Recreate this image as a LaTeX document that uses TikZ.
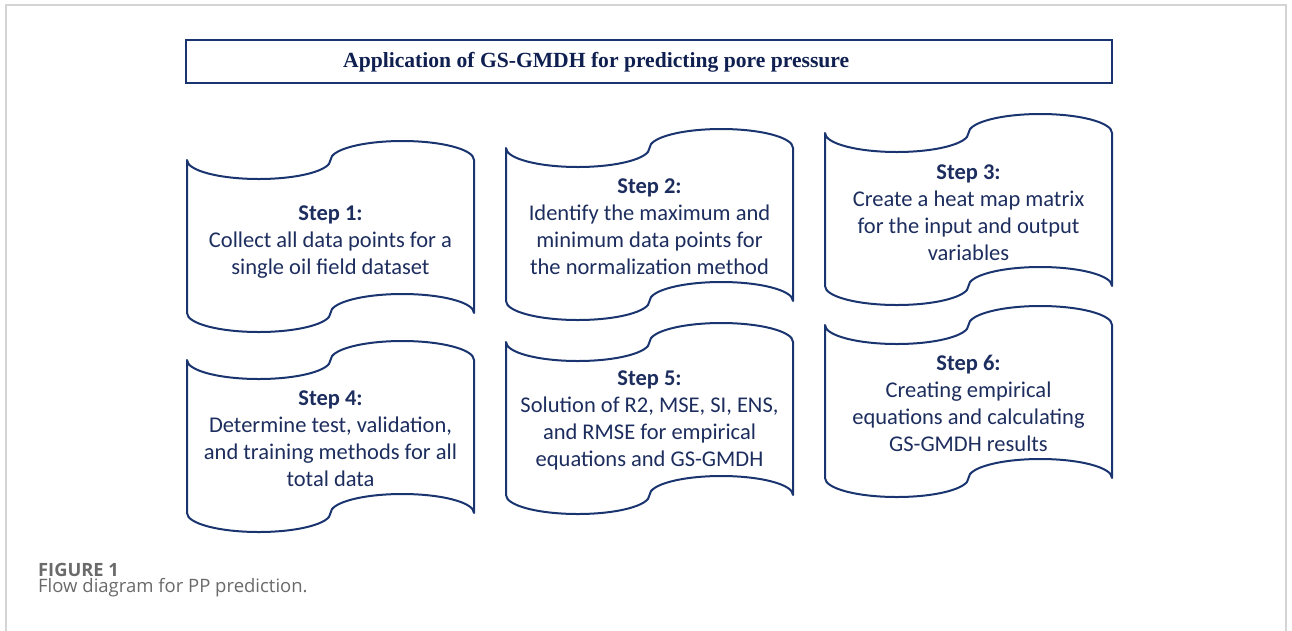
\documentclass[tikz,border=0pt]{standalone}
\usepackage{fontspec}
\setmainfont{Carlito}
\newfontfamily\titlefont{Liberation Serif}
\newfontfamily\capfont{Open Sans}
\definecolor{navytext}{HTML}{1C2D5E}
\definecolor{navyline}{HTML}{1A3470}
\definecolor{titlenavy}{HTML}{0E1F50}
\definecolor{framegray}{HTML}{D4D4D4}
\definecolor{capgray}{HTML}{6A6A6A}
\tikzset{
  tapeline/.style={draw=navyline, line width=2pt, line join=round},
  steptext/.style={align=center, text=navytext, font=\fontsize{22.5}{27}\selectfont, inner sep=0pt},
  titlebox/.style={draw=navyline, line width=2.2pt},
}
\newcommand\tapebox[5]{%
  \begin{scope}[shift={(#1,#2)}]
    \pgfmathsetmacro\r{71.75}\pgfmathsetmacro\a{19}\pgfmathsetmacro\k{0.5523}\pgfmathsetmacro\H{153}
    \draw[tapeline] (0,0)
      .. controls (0,{\k*\a}) and ({\r-\k*\r},\a) .. (\r,\a)
      .. controls ({\r+\k*\r},\a) and ({2*\r},{\k*\a}) .. ({2*\r},0)
      .. controls ({2*\r},{-\k*\a}) and ({3*\r-\k*\r},-\a) .. ({3*\r},-\a)
      .. controls ({3*\r+\k*\r},-\a) and ({4*\r},{-\k*\a}) .. ({4*\r},0)
      -- ({4*\r},\H)
      .. controls ({4*\r},{\H-\k*\a}) and ({3*\r+\k*\r},{\H-\a}) .. ({3*\r},{\H-\a})
      .. controls ({3*\r-\k*\r},{\H-\a}) and ({2*\r},{\H-\k*\a}) .. ({2*\r},\H)
      .. controls ({2*\r},{\H+\k*\a}) and ({\r+\k*\r},{\H+\a}) .. (\r,{\H+\a})
      .. controls ({\r-\k*\r},{\H+\a}) and (0,{\H+\k*\a}) .. (0,\H)
      -- cycle;
    \node[steptext] (#3) at ({2*\r},{\H/2+#5}) {#4};
  \end{scope}}
\begin{document}
\begin{tikzpicture}[x=1pt,y=-1pt]
\useasboundingbox (0,0) rectangle (1292,630);
\draw[framegray, line width=1.5pt] (6,631) -- (6,5) -- (1286,5) -- (1286,631);
\node[titlebox, minimum width=926pt, minimum height=43pt, inner sep=0pt] (tbox) at (649,61.5) {};
\node[anchor=west, inner sep=0pt, text=titlenavy, font=\titlefont\bfseries\fontsize{21.6}{26}\selectfont] (title) at (343,62) {Application of GS-GMDH for predicting pore pressure};
\tapebox{187}{160}{s1}{\textbf{Step 1:}\\Collect all data points for a\\single oil field dataset}{6}
\tapebox{506}{148}{s2}{\textbf{Step 2:}\\Identify the maximum and\\minimum data points for\\the normalization method}{2}
\tapebox{825}{133}{s3}{\textbf{Step 3:}\\Create a heat map matrix\\for the input and output\\variables}{3}
\tapebox{187}{360}{s4}{\textbf{Step 4:}\\Determine test, validation,\\and training methods for all\\total data}{2}
\tapebox{506}{342}{s5}{\textbf{Step 5:}\\Solution of R2, MSE, SI, ENS,\\and RMSE for empirical\\equations and GS-GMDH}{2}
\tapebox{825}{325}{s6}{\textbf{Step 6:}\\Creating empirical\\equations and calculating\\GS-GMDH results}{2}
\node[anchor=base west, inner sep=0pt, text=capgray, font=\capfont\bfseries\fontsize{18.3}{22}\selectfont] (fig) at (38,576) {FIGURE 1};
\node[anchor=base west, inner sep=0pt, text=capgray, font=\capfont\fontsize{18.5}{22}\selectfont] (cap) at (38,592.5) {Flow diagram for PP prediction.};
\end{tikzpicture}
\end{document}
